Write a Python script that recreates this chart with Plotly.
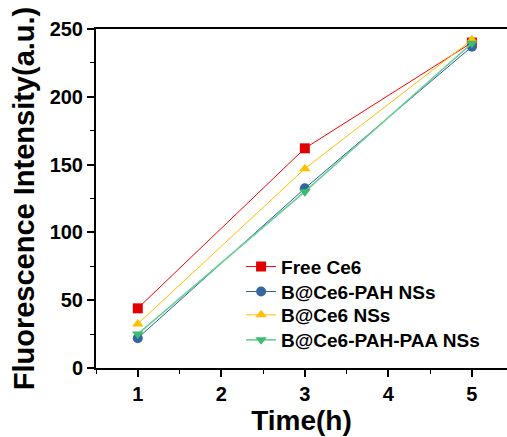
import plotly.graph_objects as go

time_h = [1, 3, 5]
free_ce6 = [44, 162, 240]
pah = [22, 132.5, 237]
ce6_ns = [32.5, 147, 242]
pah_paa = [25, 130, 239.5]

series = [
    ("Free Ce6", free_ce6, "#FF0000", "#E00000", "square", 1.0),
    ("B@Ce6-PAH NSs", pah, "#2E5E9A", "#34679F", "circle", 1.0),
    ("B@Ce6 NSs", ce6_ns, "#FFC000", "#FFC000", "triangle-up", 1.0),
    ("B@Ce6-PAH-PAA NSs", pah_paa, "#6ACF92", "#3DBB6E", "triangle-down", 1.6),
]
legend_ids = ["legend", "legend2", "legend3", "legend4"]
legend_y = [0.2988, 0.2251, 0.1563, 0.0826]

FONT = "Arial, Liberation Sans, sans-serif"
fig = go.Figure()
for (name, vals, lc, mc, sym, lw), lid in zip(series, legend_ids):
    fig.add_trace(go.Scatter(
        x=time_h, y=vals, name=name, mode="lines+markers",
        line=dict(color=lc, width=lw),
        marker=dict(symbol=sym, size=10, color=mc),
        legend=lid,
    ))

legend_common = dict(
    xanchor="left", yanchor="middle", x=0.353,
    bgcolor="rgba(0,0,0,0)",
    font=dict(size=19, family=FONT, weight="bold", color="black"),
    itemwidth=30,
)
legend_layout = {lid: dict(legend_common, y=ly) for lid, ly in zip(legend_ids, legend_y)}

fig.update_layout(
    width=507, height=437,
    margin=dict(l=96, r=0, t=29, b=69),
    plot_bgcolor="white", paper_bgcolor="white",
    font=dict(family=FONT, color="black"),
    showlegend=True,
    **legend_layout,
    xaxis=dict(
        range=[0.5, 5.42], tickvals=[1, 2, 3, 4, 5],
        showline=True, linecolor="black", linewidth=2, mirror=True,
        ticks="outside", ticklen=7, tickwidth=1.5, tickcolor="black",
        minor=dict(ticks="outside", ticklen=4, tickwidth=1.2, tickcolor="black", dtick=0.5, showgrid=False),
        showgrid=False, zeroline=False,
        tickfont=dict(size=20, family=FONT, weight="bold"),
        title=dict(text="Time(h)", font=dict(size=28, family=FONT, weight="bold"), standoff=2),
    ),
    yaxis=dict(
        range=[0, 250], tickvals=[0, 50, 100, 150, 200, 250],
        showline=True, linecolor="black", linewidth=2, mirror=False,
        ticks="outside", ticklen=7, tickwidth=1.5, tickcolor="black",
        minor=dict(ticks="outside", ticklen=4, tickwidth=1.2, tickcolor="black", dtick=25, showgrid=False),
        showgrid=False, zeroline=False,
        tickfont=dict(size=20, family=FONT, weight="bold"),
        title=dict(text="Fluorescence Intensity(a.u.)", font=dict(size=29, family=FONT, weight="bold"), standoff=6),
    ),
)

fig.write_html("out.html")
